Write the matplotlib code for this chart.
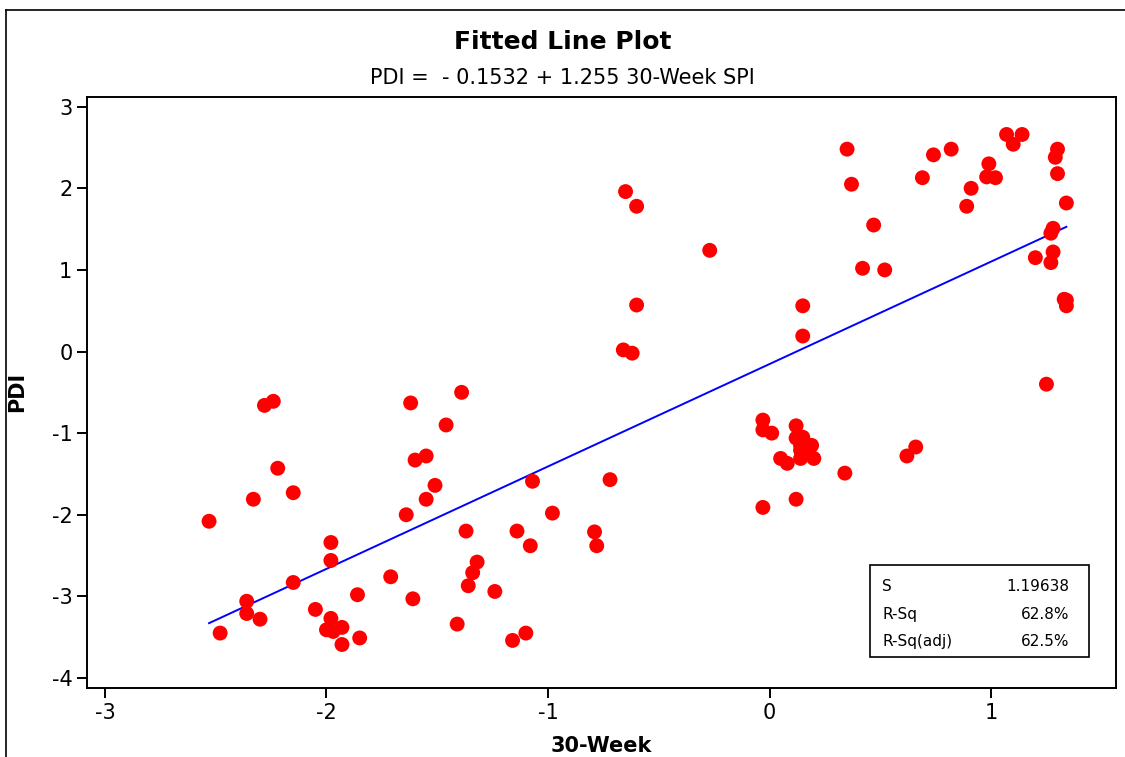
import numpy as np
import matplotlib
matplotlib.use("Agg")
import matplotlib.pyplot as plt
from matplotlib.lines import Line2D
from matplotlib.patches import Rectangle

# 30-week SPI vs PDI observations
spi = [-2.53, -2.48, -2.36, -2.36, -2.33, -2.30, -2.28, -2.24, -2.22, -2.15,
       -2.15, -2.05, -2.00, -1.98, -1.98, -1.98, -1.97, -1.93, -1.93, -1.86,
       -1.85, -1.71, -1.64, -1.62, -1.61, -1.60, -1.55, -1.55, -1.51, -1.46,
       -1.41, -1.39, -1.37, -1.36, -1.34, -1.32, -1.24, -1.16, -1.14, -1.10,
       -1.08, -1.07, -0.98, -0.79, -0.78, -0.72, -0.66, -0.65, -0.62, -0.60,
       -0.60, -0.27, -0.03, -0.03, -0.03, 0.01, 0.05, 0.08, 0.12, 0.12,
       0.12, 0.14, 0.14, 0.14, 0.15, 0.15, 0.15, 0.16, 0.19, 0.20,
       0.34, 0.35, 0.37, 0.42, 0.47, 0.52, 0.62, 0.66, 0.69, 0.74,
       0.82, 0.89, 0.91, 0.98, 0.99, 1.02, 1.07, 1.10, 1.14, 1.20,
       1.25, 1.27, 1.27, 1.28, 1.28, 1.29, 1.30, 1.30, 1.33, 1.34,
       1.34, 1.34]
pdi = [-2.08, -3.45, -3.06, -3.21, -1.81, -3.28, -0.66, -0.61, -1.43, -1.73,
       -2.83, -3.16, -3.41, -2.34, -2.56, -3.27, -3.43, -3.38, -3.59, -2.98,
       -3.51, -2.76, -2.00, -0.63, -3.03, -1.33, -1.28, -1.81, -1.64, -0.90,
       -3.34, -0.50, -2.20, -2.87, -2.71, -2.58, -2.94, -3.54, -2.20, -3.45,
       -2.38, -1.59, -1.98, -2.21, -2.38, -1.57, 0.02, 1.96, -0.02, 1.78,
       0.57, 1.24, -0.84, -0.96, -1.91, -1.00, -1.31, -1.37, -0.91, -1.06,
       -1.81, -1.15, -1.21, -1.31, 0.19, 0.56, -1.05, -1.23, -1.15, -1.31,
       -1.49, 2.48, 2.05, 1.02, 1.55, 1.00, -1.28, -1.17, 2.13, 2.41,
       2.48, 1.78, 2.00, 2.14, 2.30, 2.13, 2.66, 2.54, 2.66, 1.15,
       -0.40, 1.45, 1.09, 1.51, 1.22, 2.38, 2.48, 2.18, 0.64, 0.63,
       0.56, 1.82]

intercept = -0.1532
slope = 1.255
stats_names = ["S", "R-Sq", "R-Sq(adj)"]
stats_values = ["1.19638", "62.8%", "62.5%"]

plt.rcParams['font.family'] = ['DejaVu Sans']
plt.rcParams['axes.unicode_minus'] = False

fig = plt.figure(figsize=(11.25, 7.57), dpi=100)
ax = fig.add_axes([87/1125, 1 - 688/757, 1029/1125, 591/757])

ax.scatter(spi, pdi, s=115, color='#ff0000', edgecolors='none', zorder=3)

xs = np.sort(np.array(spi))
ax.plot(xs, intercept + slope * xs, color='#0000ff', lw=1.4, zorder=2)

ax.set_xlim(-3.081, 1.564)
ax.set_ylim(-4.123, 3.119)
ax.set_xticks([-3, -2, -1, 0, 1])
ax.set_yticks([-4, -3, -2, -1, 0, 1, 2, 3])
ax.tick_params(direction='out', length=7.5, width=1.4, labelsize=15, pad=3)
for sp in ax.spines.values():
    sp.set_linewidth(1.4)

# summary box
ax.add_patch(Rectangle((0.761, 0.0525), 0.213, 0.1555, transform=ax.transAxes,
                       facecolor='white', edgecolor='black', lw=1.2, zorder=4))
for i, (name, val) in enumerate(zip(stats_names, stats_values)):
    yy = 0.171 - i * 0.0465
    ax.text(0.773, yy, name, transform=ax.transAxes, fontsize=11,
            va='center', ha='left', zorder=5)
    ax.text(0.955, yy, val, transform=ax.transAxes, fontsize=11,
            va='center', ha='right', zorder=5)

fig.text(0.5, 1 - 42/757, "Fitted Line Plot", ha='center', va='center',
         fontsize=18, fontweight='bold')
fig.text(0.5, 1 - 78/757, "PDI =  - 0.1532 + 1.255 30-Week SPI",
         ha='center', va='center', fontsize=15)
fig.text(601/1125, 1 - 746/757, "30-Week", ha='center', va='center',
         fontsize=15, fontweight='bold')
fig.text(17/1125, 1 - 392/757, "PDI", ha='center', va='center',
         fontsize=15, fontweight='bold', rotation=90)

# outer graph border
fig.add_artist(Line2D([6/1125, 6/1125], [0, 1 - 10/757], color='black', lw=1.2))
fig.add_artist(Line2D([6/1125, 1], [1 - 10/757, 1 - 10/757], color='black', lw=1.2))

fig.savefig("out.png", dpi=100)
